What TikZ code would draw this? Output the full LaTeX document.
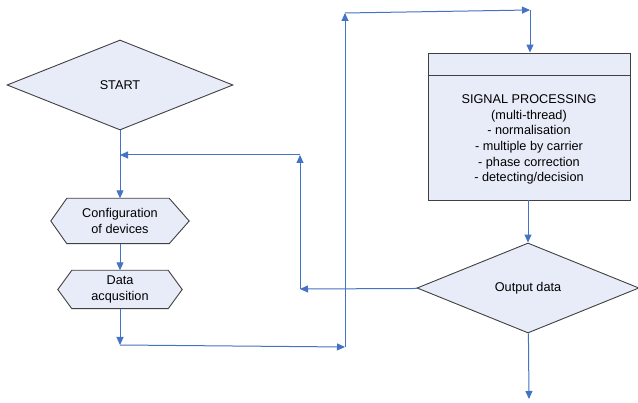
\documentclass[tikz,border=0pt]{standalone}
\usepackage{fontspec}
\setmainfont{Liberation Sans}
\usetikzlibrary{shapes.geometric,arrows.meta,backgrounds}
\definecolor{flowblue}{HTML}{4472C4}
\definecolor{boxfill}{HTML}{E8ECF8}
\definecolor{boxline}{HTML}{404040}
\begin{document}
\begin{tikzpicture}[x=1pt,y=-1pt,
    font=\fontsize{12.7}{15.6}\selectfont,
    decision/.style={diamond,draw=boxline,fill=boxfill,line width=0.9pt,inner sep=0pt},
    textbox/.style={align=center,inner sep=0pt},
    hexline/.style={draw=boxline,fill=boxfill,line width=0.9pt},
    flow/.style={draw=flowblue,line width=1pt,-{Triangle[length=8pt,width=7pt]}}]
  \useasboundingbox (0,0) rectangle (638,403);
  % left column
  \node[decision,minimum width=226pt,minimum height=90pt] (start) at (120,85) {START};
  \node[textbox,minimum width=138pt,minimum height=45pt] (config) at (120,221) {Configuration\\of devices};
  \node[textbox,minimum width=124pt,minimum height=38pt] (data) at (120,289.5) {Data\\acqusition};
  \begin{scope}[on background layer]
    \path[hexline] (config.west) -- ([xshift=16pt]config.north west) -- ([xshift=-20pt]config.north east)
      -- (config.east) -- ([xshift=-20pt]config.south east) -- ([xshift=16pt]config.south west) -- cycle;
    \path[hexline] (data.west) -- ([xshift=14pt]data.north west) -- ([xshift=-14pt]data.north east)
      -- (data.east) -- ([xshift=-14pt]data.south east) -- ([xshift=14pt]data.south west) -- cycle;
  \end{scope}
  % right column
  \node[draw=boxline,fill=boxfill,line width=0.9pt,minimum width=202pt,minimum height=147pt] (sig) at (529,126.5) {};
  \draw[boxline,line width=0.9pt] ([yshift=-23pt]sig.north west) -- ([yshift=-23pt]sig.north east);
  \node[textbox] (sigtext) at (529,139.5) {SIGNAL PROCESSING\\(multi-thread)\\- normalisation\\- multiple by carrier\\- phase correction\\- detecting/decision};
  \node[decision,minimum width=222pt,minimum height=90pt] (out) at (528,288) {Output data};
  % corners of the connectors
  \coordinate (d1) at (120,345);
  \coordinate (d2) at (345,347);
  \coordinate (d3) at (345,13);
  \coordinate (d4) at (530,10);
  \coordinate (f1) at (300,289);
  \coordinate (f2) at (300,155);
  \coordinate (f3) at (120,155);
  \coordinate (stop) at (529,399);
  % connectors
  \draw[flow] (start) -- (config);
  \draw[flow] (config) -- (data);
  \draw[flow] (data) -- (d1);
  \draw[flow] (d1) -- (d2);
  \draw[flow] (d2) -- (d3);
  \draw[flow] (d3) -- (d4);
  \draw[flow] (d4) -- (sig.north -| d4);
  \draw[flow] (sig.south -| out) -- (out);
  \draw[flow] (out) -- (stop);
  \draw[flow] (out) -- (f1);
  \draw[flow] (f1) -- (f2);
  \draw[flow] (f2) -- (f3);
\end{tikzpicture}
\end{document}
